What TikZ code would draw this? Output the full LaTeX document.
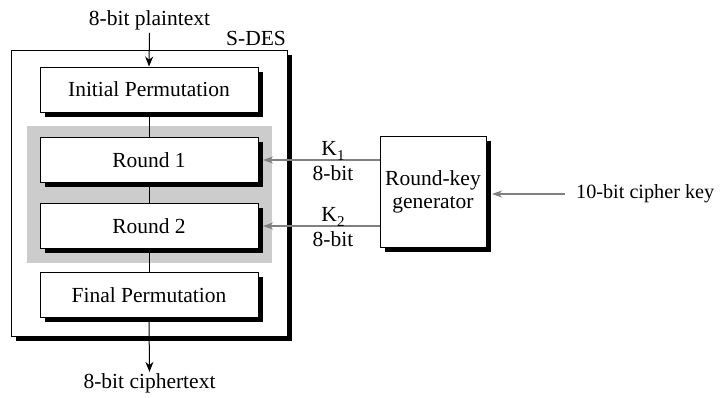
\documentclass[tikz,border=0pt]{standalone}
\usepackage{fontspec}
\setmainfont{Liberation Serif}
\usetikzlibrary{arrows.meta,shadows,calc}
\begin{document}
\begin{tikzpicture}[x=1pt,y=-1pt,
 every node/.style={font=\fontsize{21.5}{23}\selectfont},
 sbox/.style={draw, fill=white, line width=1pt, general shadow={fill=black, shadow xshift=4.5pt, shadow yshift=-4.5pt}},
 stage/.style={sbox, minimum width=218pt, minimum height=45pt, inner sep=0pt},
 lbl/.style={inner sep=0pt},
 conn/.style={line width=1pt},
 barrow/.style={line width=1pt, -{Stealth[length=10pt,width=8pt]}},
 garrow/.style={draw=gray, line width=1.4pt, -{Stealth[length=10pt,width=7pt,inset=3pt]}, color=gray}]
\useasboundingbox (0,0) rectangle (722,397);
% outer S-DES box
\node[sbox, minimum width=276pt, minimum height=286pt, inner sep=0pt] (sdes) at (149,193) {};
\node[lbl, anchor=base] (title) at (256,45) {S-DES};
% grey group behind the rounds
\node[fill=black!20, minimum width=245pt, minimum height=137pt, inner sep=0pt] (grp) at (149.5,194.5) {};
% stages
\node[stage] (ip) at (149,89.5) {Initial Permutation};
\node[stage] (r1) at (149,160) {Round 1};
\node[stage] (r2) at (149,226) {Round 2};
\node[stage] (fp) at (149,295) {Final Permutation};
\draw[conn] (ip) -- (r1);
\draw[conn] (r1) -- (r2);
\draw[conn] (r2) -- (fp);
% input / output
\node[lbl, anchor=base] (pt) at (149.5,25) {8-bit plaintext};
\draw[barrow] ([yshift=-3pt]pt.south) -- (ip.north);
\node[lbl, anchor=base] (ct) at (149.5,388) {8-bit ciphertext};
\draw[barrow] (fp.south) -- ([yshift=1pt]ct.north);
% round-key generator
\node[sbox, minimum width=106pt, minimum height=111pt, align=center, inner sep=0pt] (rk) at (433,191.5) {Round-key\\generator};
\draw[garrow] (rk.west |- r1) -- ($(r1.east)+(4.5,0)$);
\draw[garrow] (rk.west |- r2) -- ($(r2.east)+(4.5,0)$);
\node[lbl, anchor=base] (k1) at (333,155) {K\raisebox{-0.25em}{\fontsize{15}{15}\selectfont 1}};
\node[lbl, anchor=base] (b1) at (333,180) {8-bit};
\node[lbl, anchor=base] (k2) at (333,221) {K\raisebox{-0.25em}{\fontsize{15}{15}\selectfont 2}};
\node[lbl, anchor=base] (b2) at (333,246) {8-bit};
% cipher key
\node[lbl, anchor=base west, font=\fontsize{20.2}{23}\selectfont] (ck) at (576,198) {10-bit cipher key};
\coordinate (ckin) at (565,194);
\draw[garrow] (ckin) -- ($(ckin -| rk.east)+(5.5,0)$);
\end{tikzpicture}
\end{document}
